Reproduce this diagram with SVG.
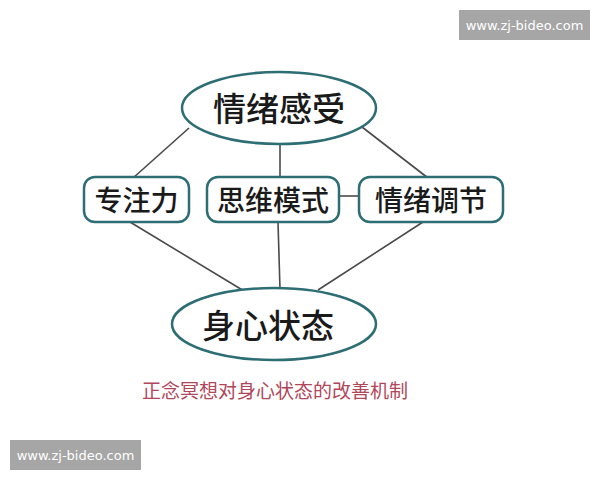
<svg xmlns="http://www.w3.org/2000/svg" width="600" height="480" viewBox="0 0 600 480">
<style>
.node{fill:#ffffff;stroke:#2d6d74;stroke-width:2.5}
.lbl{font-family:"Noto Sans CJK SC","Noto Sans",sans-serif;font-weight:500;fill:#1a1a1a;text-anchor:middle;dominant-baseline:central}
.big{font-size:33px}
.mid{font-size:28px}
.conn line{stroke:#4a4a4a;stroke-width:1.6}
.wm rect{fill:#a6a6a6}
.wm text{font-family:"DejaVu Sans","Liberation Sans",sans-serif;font-size:13px;fill:#ffffff;text-anchor:middle;dominant-baseline:central}
</style>
<rect width="600" height="480" fill="#ffffff"/>
<g id="connectors" class="conn">
<line x1="189" y1="128" x2="133" y2="178"/>
<line x1="280" y1="144" x2="280" y2="178"/>
<line x1="362" y1="127" x2="428" y2="178"/>
<line x1="339" y1="196" x2="359" y2="196"/>
<line x1="130" y1="222" x2="244" y2="291"/>
<line x1="278" y1="222" x2="280" y2="289"/>
<line x1="423" y1="222" x2="318" y2="290"/>
</g>
<g id="node-qingxu-ganshou">
<ellipse class="node" cx="279" cy="108" rx="97" ry="36"/>
<text class="lbl big" x="279" y="107">情绪感受</text>
</g>
<g id="node-zhuyili">
<rect class="node" x="84" y="177" width="105" height="45" rx="11"/>
<text class="lbl mid" x="136.5" y="199">专注力</text>
</g>
<g id="node-siwei-moshi">
<rect class="node" x="207" y="177" width="132" height="45" rx="11"/>
<text class="lbl mid" x="273" y="199">思维模式</text>
</g>
<g id="node-qingxu-tiaojie">
<rect class="node" x="359" y="177" width="144" height="45" rx="11"/>
<text class="lbl mid" x="431" y="199">情绪调节</text>
</g>
<g id="node-shenxin-zhuangtai">
<ellipse class="node" cx="274" cy="324" rx="102" ry="36"/>
<text class="lbl big" x="268" y="324">身心状态</text>
</g>
<text x="275" y="389" font-family="'Noto Sans CJK SC','Noto Sans',sans-serif" font-size="19" fill="#b0465a" text-anchor="middle" dominant-baseline="central">正念冥想对身心状态的改善机制</text>
<g class="wm">
<rect x="459" y="10" width="131" height="30"/>
<text x="524.5" y="25">www.zj-bideo.com</text>
<rect x="10" y="440" width="131" height="30"/>
<text x="75.5" y="455">www.zj-bideo.com</text>
</g>
</svg>
